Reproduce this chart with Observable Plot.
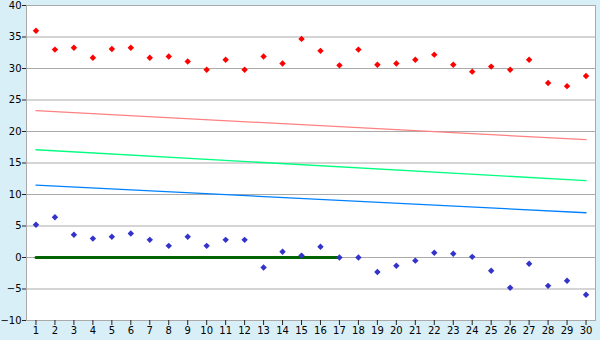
<!DOCTYPE html>
<html>
<head>
<meta charset="utf-8">
<script src="https://cdn.jsdelivr.net/npm/d3@7"></script>
<script src="https://cdn.jsdelivr.net/npm/@observablehq/plot@0.6"></script>
<style>
  html, body { margin: 0; padding: 0; background: #d9eff7; }
  #chart { width: 600px; height: 340px; }
</style>
</head>
<body>
<div id="chart"></div>
<script>
const days = [1,2,3,4,5,6,7,8,9,10,11,12,13,14,15,16,17,18,19,20,21,22,23,24,25,26,27,28,29,30];
const highs = [36.0,33.0,33.3,31.7,33.1,33.3,31.7,31.9,31.1,29.8,31.4,29.8,31.9,30.8,34.7,32.8,30.5,33.0,30.6,30.8,31.4,32.2,30.6,29.5,30.3,29.8,31.4,27.7,27.2,28.8];
const lows = [5.2,6.4,3.6,3.0,3.3,3.8,2.8,1.85,3.3,1.85,2.8,2.8,-1.6,0.9,0.3,1.7,0.0,0.0,-2.3,-1.3,-0.5,0.75,0.6,0.1,-2.1,-4.8,-1.0,-4.5,-3.7,-5.9];
const trendDays = [1, 30];
const trendHigh = [23.3, 18.7];
const trendMid = [17.1, 12.2];
const trendLow = [11.5, 7.1];
const baselineDays = [1, 17];
const baselineValues = [0, 0];
const yTicks = [-10,-5,0,5,10,15,20,25,30,35,40];

const pts = (xs, ys) => xs.map((x, i) => ({x, y: ys[i]}));

const chart = Plot.plot({
  width: 600,
  height: 340,
  marginLeft: 26,
  marginRight: 5,
  marginTop: 5,
  marginBottom: 20,
  style: {background: "transparent", fontFamily: "'DejaVu Sans', sans-serif", fontSize: "10px", color: "#000"},
  x: {domain: [0.5, 30.5]},
  y: {domain: [-10, 40]},
  marks: [
    Plot.frame({fill: "white", stroke: null}),
    Plot.gridY(yTicks, {stroke: "#aaaaaa", strokeOpacity: 1, strokeWidth: 1}),
    Plot.frame({stroke: "#aaaaaa", strokeWidth: 1}),
    Plot.axisY(yTicks, {tickSize: 4, tickPadding: 1, stroke: "#222", label: null}),
    Plot.axisX(days, {tickSize: 5, tickPadding: 1, stroke: "#222", label: null}),
    Plot.line(pts(trendDays, trendHigh), {x: "x", y: "y", stroke: "#ff8080", strokeWidth: 1.3}),
    Plot.line(pts(trendDays, trendMid), {x: "x", y: "y", stroke: "#00ff80", strokeWidth: 1.3}),
    Plot.line(pts(trendDays, trendLow), {x: "x", y: "y", stroke: "#0080ff", strokeWidth: 1.3}),
    Plot.line(pts(baselineDays, baselineValues), {x: "x", y: "y", stroke: "#006400", strokeWidth: 3}),
    Plot.dot(pts(days, highs), {x: "x", y: "y", symbol: "diamond2", r: 2.9, fill: "#ff0000", stroke: null}),
    Plot.dot(pts(days, lows), {x: "x", y: "y", symbol: "diamond2", r: 2.9, fill: "#3333cc", stroke: null})
  ]
});
document.getElementById("chart").append(chart);
</script>
</body>
</html>
